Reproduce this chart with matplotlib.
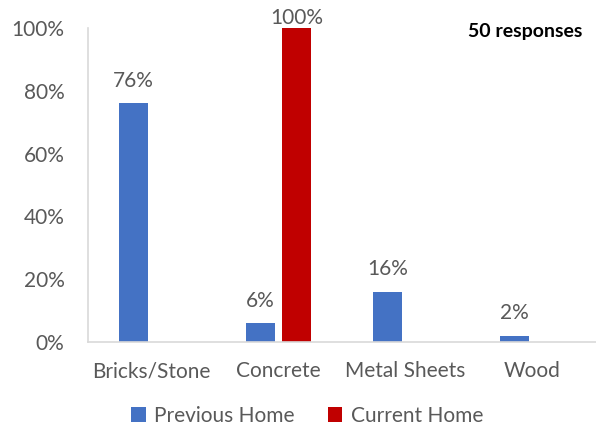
import numpy as np
import matplotlib
matplotlib.use('Agg')
import matplotlib.pyplot as plt
from matplotlib.ticker import FuncFormatter

plt.rcParams['font.family'] = ['Lato', 'DejaVu Sans']

categories = ['Bricks/Stone', 'Concrete', 'Metal Sheets', 'Wood']
previous_home = [76, 6, 16, 2]
current_home = [0, 100, 0, 0]
series_names = ['Previous Home', 'Current Home']
yticks = [0, 20, 40, 60, 80, 100]
note = '50 responses'

grey = '#595959'
fig = plt.figure(figsize=(5.96, 4.26), dpi=100)
ax = fig.add_axes([88/596, 1-342/426, 1-88/596, 314/426])

x = np.arange(len(categories))
w = 0.225
off = 0.143
b1 = ax.bar(x - off, previous_home, w, color='#4472C4', label=series_names[0])
b2 = ax.bar(x + off, current_home, w, color='#C00000', label=series_names[1])

# labels only where there is a bar; the one at the top is kept inside like excel does
for bars, vals in ((b1, previous_home), (b2, current_home)):
    for r, v in zip(bars, vals):
        if v == 0:
            continue
        dy = 0 if v >= 95 else 9
        ax.annotate('%d%%' % v, (r.get_x() + r.get_width()/2, v),
                    xytext=(0, dy), textcoords='offset points',
                    ha='center', va='bottom', fontsize=15, color=grey,
                    annotation_clip=False)

ax.set_xlim(-0.5, len(categories) - 0.5)
ax.set_ylim(0, 100)
ax.set_yticks(yticks)
ax.yaxis.set_major_formatter(FuncFormatter(lambda v, p: '%d%%' % v))
ax.set_xticks(x)
ax.set_xticklabels(categories)
ax.tick_params(axis='both', length=0, labelsize=15, labelcolor=grey)
ax.tick_params(axis='y', pad=17)
ax.tick_params(axis='x', pad=14)
for s in ('top', 'right'):
    ax.spines[s].set_visible(False)
for s in ('left', 'bottom'):
    ax.spines[s].set_color('#D9D9D9')
    ax.spines[s].set_linewidth(1.2)

fig.text(582/596, 1-32/426, note, ha='right', va='center',
         fontsize=14, fontweight='bold', color='black')

fig.legend(handles=[b1, b2], loc='center', bbox_to_anchor=(0.515, 1-416/426),
           ncol=2, frameon=False, fontsize=15, labelcolor=grey,
           handlelength=0.7, handleheight=0.7, handletextpad=0.4,
           columnspacing=1.6)

fig.savefig('out.png', dpi=100)
